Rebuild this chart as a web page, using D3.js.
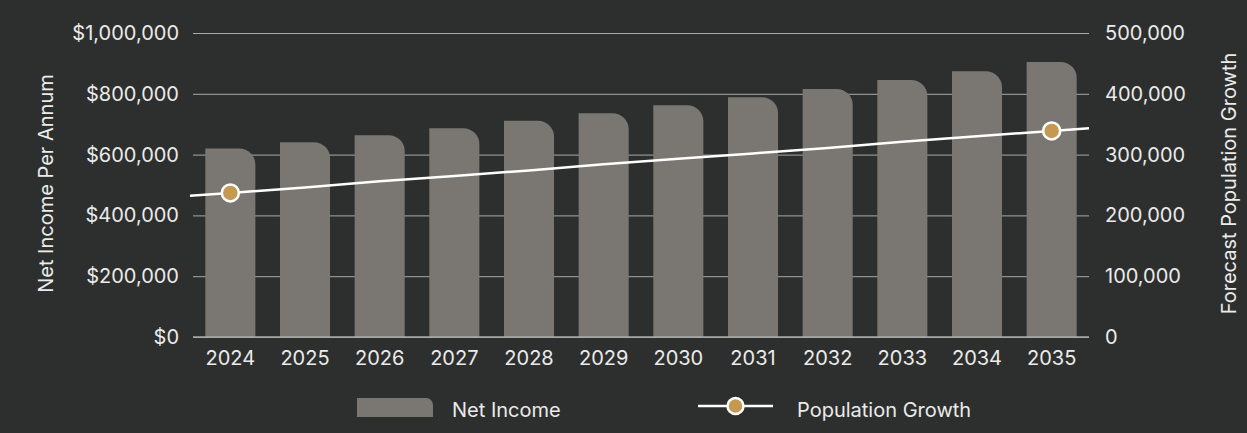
<!DOCTYPE html>
<html>
<head>
<meta charset="utf-8">
<script src="https://cdn.jsdelivr.net/npm/d3@7"></script>
<style>
  html, body { margin: 0; padding: 0; background: #2d2f2e; }
  svg { display: block; font-family: Inter, "Open Sans", sans-serif; }
</style>
</head>
<body>
<figure id="chart" style="margin:0"></figure>
<script>
// chart data
const years = ["2024", "2025", "2026", "2027", "2028", "2029", "2030", "2031", "2032", "2033", "2034", "2035"];
const netIncome = [620000, 641000, 664000, 687000, 711000, 736000, 762000, 789000, 816000, 845000, 874000, 905000];
const population = [237000, 246000, 256000, 265000, 274000, 284000, 293000, 302000, 311000, 321000, 330000, 339000];
const incomeTicks = [0, 200000, 400000, 600000, 800000, 1000000];
const popTicks = [0, 100000, 200000, 300000, 400000, 500000];

const width = 1247, height = 433;
const margin = {top: 33, right: 158, bottom: 96, left: 193};
const innerW = width - margin.left - margin.right;
const innerH = height - margin.top - margin.bottom;

const textColor = "#ebebea";
const barColor = "#7a7772";
const gridColor = "#a9a9a7";
const dotColor = "#c49a52";
const fontFamily = "Inter, 'Open Sans', sans-serif";
const fontSize = "20px";

const svg = d3.select("#chart")
  .append("svg")
  .attr("width", width)
  .attr("height", height);

svg.append("rect").attr("width", width).attr("height", height).attr("fill", "#2d2f2e");

const g = svg.append("g")
  .attr("transform", "translate(" + margin.left + "," + margin.top + ")");

// scales
const x = d3.scaleBand().domain(years).range([0, innerW]).paddingInner(0.33).paddingOuter(0.165);
const yL = d3.scaleLinear().domain([0, 1000000]).range([innerH, 0]);
const yR = d3.scaleLinear().domain([0, 500000]).range([innerH, 0]);

// gridlines + left axis
const leftAxis = g.append("g")
  .call(d3.axisLeft(yL).tickValues(incomeTicks).tickSize(-innerW).tickPadding(14)
    .tickFormat(d => "$" + d3.format(",")(d)))
  .attr("font-family", fontFamily);
leftAxis.select(".domain").remove();
leftAxis.selectAll("line").attr("stroke", gridColor).attr("stroke-width", 1);
leftAxis.selectAll("text").attr("fill", textColor).style("font-size", fontSize);

// right axis (labels only)
const rightAxis = g.append("g")
  .attr("transform", "translate(" + innerW + ",0)")
  .call(d3.axisRight(yR).tickValues(popTicks).tickSize(0).tickPadding(16)
    .tickFormat(d3.format(",")))
  .attr("font-family", fontFamily);
rightAxis.select(".domain").remove();
rightAxis.selectAll("text").attr("fill", textColor).style("font-size", fontSize);

// bars with rounded top-right corner
const r = 16;
function barPath(d, i) {
  const x0 = x(years[i]), w = x.bandwidth();
  const y0 = yL(d), y1 = yL(0);
  return "M" + x0 + "," + y1 +
    "V" + y0 +
    "H" + (x0 + w - r) +
    "A" + r + "," + r + " 0 0 1 " + (x0 + w) + "," + (y0 + r) +
    "V" + y1 + "Z";
}
g.selectAll("path.bar")
  .data(netIncome)
  .enter()
  .append("path")
  .attr("class", "bar")
  .attr("d", barPath)
  .attr("fill", barColor);

// baseline redrawn over bars
g.append("line")
  .attr("x1", 0).attr("x2", innerW)
  .attr("y1", yL(0)).attr("y2", yL(0))
  .attr("stroke", gridColor).attr("stroke-width", 1.5);

// x axis labels
const xAxis = g.append("g")
  .attr("transform", "translate(0," + innerH + ")")
  .call(d3.axisBottom(x).tickSize(0).tickPadding(14))
  .attr("font-family", fontFamily);
xAxis.select(".domain").remove();
xAxis.selectAll("text").attr("fill", textColor).style("font-size", fontSize);

// population line, stretched to the plot edges along the first and last segments
const pts = population.map((v, i) => [x(years[i]) + x.bandwidth() / 2, yR(v)]);
const n = pts.length;
const s0 = (pts[1][1] - pts[0][1]) / (pts[1][0] - pts[0][0]);
const s1 = (pts[n - 1][1] - pts[n - 2][1]) / (pts[n - 1][0] - pts[n - 2][0]);
const linePts = [[-3, pts[0][1] + (-3 - pts[0][0]) * s0]]
  .concat(pts)
  .concat([[innerW, pts[n - 1][1] + (innerW - pts[n - 1][0]) * s1]]);

g.append("path")
  .attr("d", d3.line()(linePts))
  .attr("fill", "none")
  .attr("stroke", "#ffffff")
  .attr("stroke-width", 2.5);

g.selectAll("circle.dot")
  .data([0, n - 1])
  .enter()
  .append("circle")
  .attr("class", "dot")
  .attr("cx", i => pts[i][0])
  .attr("cy", i => pts[i][1])
  .attr("r", 8.5)
  .attr("fill", dotColor)
  .attr("stroke", "#ffffff")
  .attr("stroke-width", 2.5);

// axis titles
svg.append("text")
  .attr("transform", "translate(53,183.5) rotate(-90)")
  .attr("text-anchor", "middle")
  .attr("fill", textColor)
  .style("font-size", fontSize)
  .text("Net Income Per Annum");

svg.append("text")
  .attr("transform", "translate(1236,183.5) rotate(-90)")
  .attr("text-anchor", "middle")
  .attr("fill", textColor)
  .style("font-size", fontSize)
  .text("Forecast Population Growth");

// legend
const legend = svg.append("g");
legend.append("path")
  .attr("d", "M357,417V398H426A7,7 0 0 1 433,405V417Z")
  .attr("fill", barColor);
legend.append("text")
  .attr("x", 452).attr("y", 416.5)
  .attr("fill", textColor).style("font-size", fontSize)
  .text("Net Income");
legend.append("line")
  .attr("x1", 698).attr("x2", 773).attr("y1", 406).attr("y2", 406)
  .attr("stroke", "#ffffff").attr("stroke-width", 2.5);
legend.append("circle")
  .attr("cx", 735.5).attr("cy", 406).attr("r", 8)
  .attr("fill", dotColor).attr("stroke", "#ffffff").attr("stroke-width", 2.5);
legend.append("text")
  .attr("x", 797).attr("y", 416.5)
  .attr("fill", textColor).style("font-size", fontSize)
  .text("Population Growth");
</script>
</body>
</html>
